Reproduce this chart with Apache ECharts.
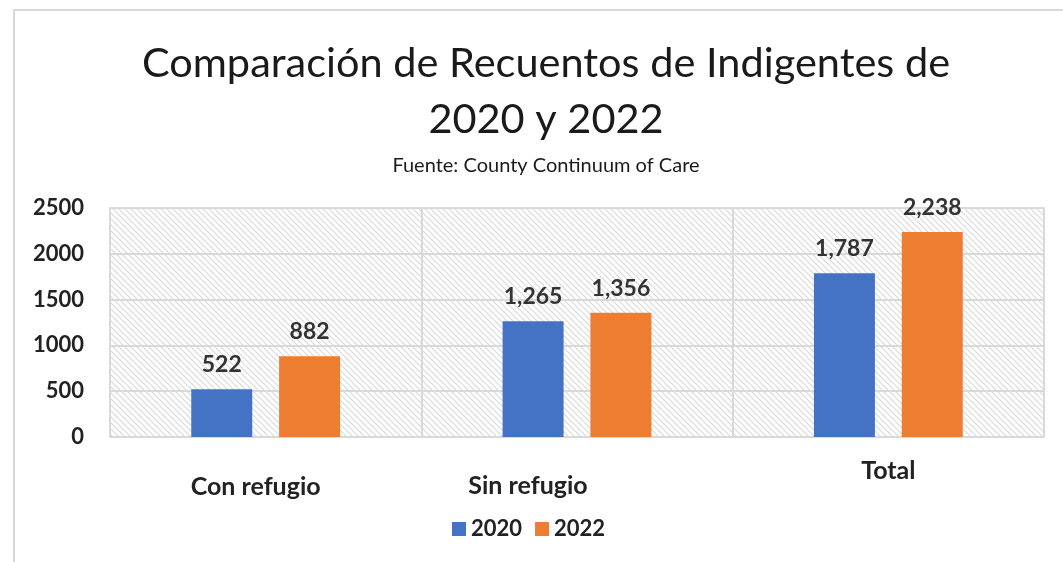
<!DOCTYPE html>
<html>
<head>
<meta charset="utf-8">
<script src="https://cdn.jsdelivr.net/npm/echarts@6/dist/echarts.min.js"></script>
<style>
  html, body { margin: 0; padding: 0; background: #fff; }
  #chart { width: 1063px; height: 562px; }
</style>
</head>
<body>
<div id="chart"></div>
<script>
// categorias y valores
var categorias = ["Con refugio", "Sin refugio", "Total"];
var valores2020 = [522, 1265, 1787];
var valores2022 = [882, 1356, 2238];
var yTicks = [0, 500, 1000, 1500, 2000, 2500];

// fondo rayado del area de la grafica
function hatch () {
  var c = document.createElement("canvas");
  c.width = 6;
  c.height = 6;
  var ctx = c.getContext("2d");
  ctx.strokeStyle = "#d9d9d9";
  ctx.lineWidth = 1.1;
  ctx.beginPath();
  ctx.moveTo(-6, 0); ctx.lineTo(6, 12);
  ctx.moveTo(0, 0); ctx.lineTo(6, 6);
  ctx.moveTo(0, -6); ctx.lineTo(12, 6);
  ctx.stroke();
  return c;
}

var chart = echarts.init(document.getElementById("chart"));
var font = "Lato, 'Open Sans', sans-serif";
var labelColor = "#222";

var option = {
  backgroundColor: "#fff",
  textStyle: { fontFamily: font },
  graphic: [{
    type: "rect",
    shape: { x: 14, y: 10, width: 1200, height: 700 },
    style: { fill: null, stroke: "#d9d9d9", lineWidth: 2 },
    silent: true
  }],
  title: {
    text: "Comparación de Recuentos de Indigentes de\n2020 y 2022",
    subtext: "Fuente: County Continuum of Care",
    left: 541,
    textAlign: "center",
    top: 31,
    itemGap: 8,
    textStyle: { fontSize: 41.5, fontWeight: "normal", color: "#1a1a1a", lineHeight: 56, fontFamily: font },
    subtextStyle: { fontSize: 20, color: "#1a1a1a", fontFamily: font }
  },
  legend: {
    data: ["2020", "2022"],
    bottom: 17,
    left: 447,
    icon: "rect",
    itemWidth: 14,
    itemHeight: 14,
    itemGap: 13,
    textStyle: { fontSize: 22, fontWeight: "bold", color: labelColor, fontFamily: font }
  },
  grid: {
    left: 110,
    right: 19,
    top: 208,
    bottom: 125,
    show: true,
    borderColor: "#d9d9d9",
    borderWidth: 1.5,
    backgroundColor: { image: hatch(), repeat: "repeat" }
  },
  xAxis: {
    type: "category",
    data: categorias,
    axisLine: { show: false },
    axisTick: { show: false },
    splitLine: { show: true, lineStyle: { color: "#d9d9d9", width: 2 } },
    axisLabel: {
      margin: 0,
      formatter: function (v, i) { return "{c" + i + "|" + v + "}"; },
      rich: {
        c0: { fontSize: 25, fontWeight: "bold", color: labelColor, padding: [37, 20, 0, 0], fontFamily: font },
        c1: { fontSize: 25, fontWeight: "bold", color: labelColor, padding: [36, 98, 0, 0], fontFamily: font },
        c2: { fontSize: 25, fontWeight: "bold", color: labelColor, padding: [21, 0, 0, 0], fontFamily: font }
      }
    }
  },
  yAxis: {
    type: "value",
    min: 0,
    max: 2500,
    interval: 500,
    axisLine: { show: false },
    axisTick: { show: false },
    splitLine: { show: true, lineStyle: { color: "#d9d9d9", width: 2 } },
    axisLabel: {
      margin: 26,
      fontSize: 22,
      fontWeight: "bold",
      color: labelColor,
      fontFamily: font,
      formatter: function (v) { return yTicks.indexOf(v) >= 0 ? String(v) : ""; }
    }
  },
  series: [
    {
      name: "2020",
      type: "bar",
      data: valores2020,
      barWidth: 61,
      barGap: "44%",
      itemStyle: { color: "#4472C4" },
      label: {
        show: true,
        position: "top",
        distance: 13,
        fontSize: 23,
        fontWeight: "bold",
        color: "#333",
        fontFamily: font,
        formatter: function (p) { return p.value.toLocaleString("en-US"); }
      }
    },
    {
      name: "2022",
      type: "bar",
      data: valores2022,
      barWidth: 61,
      itemStyle: { color: "#ED7D31" },
      label: {
        show: true,
        position: "top",
        distance: 13,
        fontSize: 23,
        fontWeight: "bold",
        color: "#333",
        fontFamily: font,
        formatter: function (p) { return p.value.toLocaleString("en-US"); }
      }
    }
  ]
};

chart.setOption(option);
</script>
</body>
</html>
